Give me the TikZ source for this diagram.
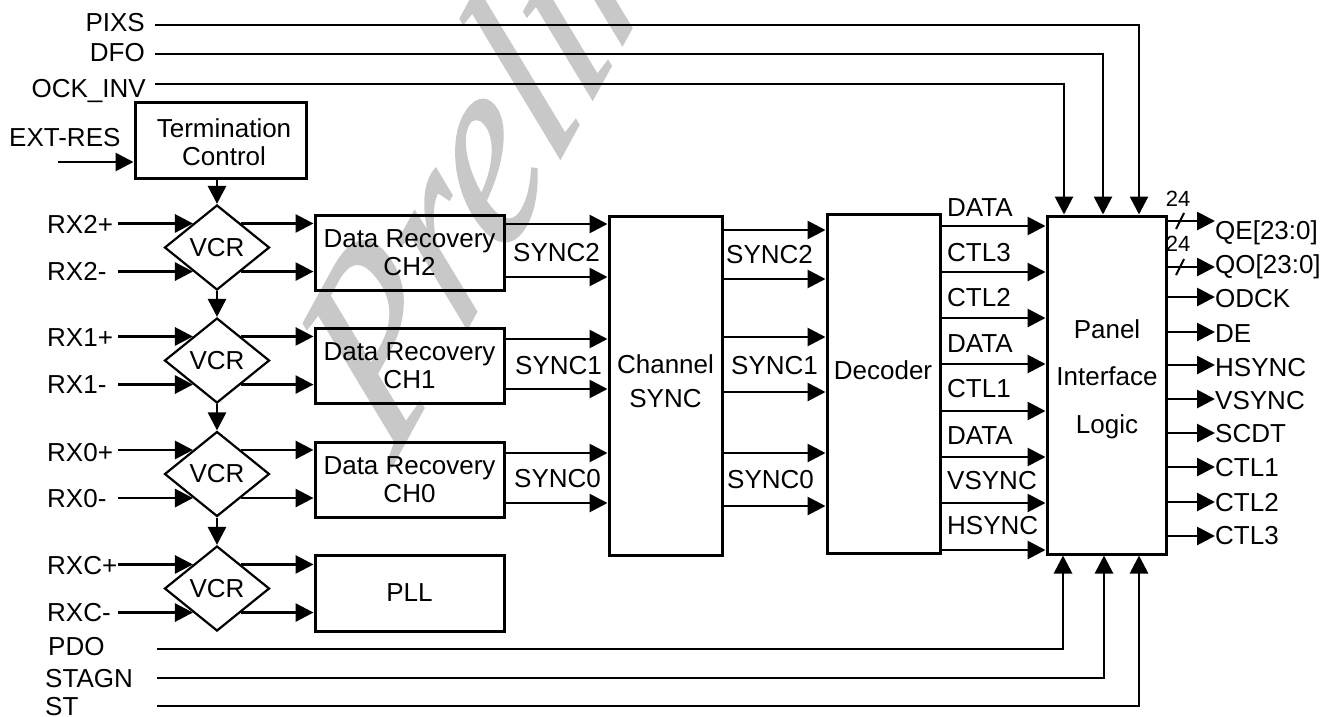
\documentclass[tikz,border=0pt]{standalone}
\usepackage{fontspec}
\setmainfont{Liberation Sans}
\newfontfamily\wmfont[ItalicFeatures={FakeBold=0.8}]{Liberation Serif}
\usetikzlibrary{arrows.meta,shapes.geometric}
\definecolor{wmgray}{RGB}{200,200,200}
\begin{document}
\begin{tikzpicture}[x=1pt,y=-1pt,
  blk/.style={draw, line width=3pt, rectangle, inner sep=0pt, align=center,
    font=\fontsize{26}{28}\selectfont},
  arr/.style={line width=2.8pt, -{Triangle[length=18pt,width=18pt]}},
  lbl/.style={inner sep=0pt, text height=18.6pt, text depth=0pt,
    font=\fontsize{26}{28}\selectfont},
  mtxt/.style={inner sep=0pt, align=center},
  vcr/.style={draw, diamond, line width=2.2pt, minimum width=105pt,
    minimum height=85pt, inner sep=0pt, aspect=1.235,
    font=\fontsize{26}{28}\selectfont},
  bus/.style={inner sep=0pt, font=\fontsize{22}{24}\selectfont}]
\useasboundingbox (0,0) rectangle (1335,716);

% watermark
\node[cm={0.480,0.877,-0.640,0.768,(392,466)}, transform shape,
  anchor=base west, inner sep=0pt, text=wmgray,
  font=\fontsize{240}{240}\wmfont\itshape] (wm) at (0,0) {Preliminary};

% top control inputs
\node[lbl, anchor=east] (pixs) at (145,22) {PIXS};
\node[lbl, anchor=east] (dfo) at (145,52) {DFO};
\node[lbl, anchor=east] (ockinv) at (146,88) {OCK\_INV};
\node[lbl, anchor=west] (extres) at (9,137) {EXT-RES};
\coordinate (pixsS) at (155,25);
\coordinate (dfoS) at (155,54);
\coordinate (ockS) at (155,84);
\coordinate (extS) at (58,162);

% blocks
\node[blk, minimum width=171pt, minimum height=76pt] (term) at (220.5,140) {};
\node[mtxt, font=\fontsize{26}{28}\selectfont] (termtxt) at (224,142) {Termination\\Control};
\node[blk, minimum width=189pt, minimum height=75pt] (dr2) at (409.5,252.5) {Data Recovery\\CH2};
\node[blk, minimum width=189pt, minimum height=75pt] (dr1) at (409.5,365.5) {Data Recovery\\CH1};
\node[blk, minimum width=189pt, minimum height=75pt] (dr0) at (409.5,480) {Data Recovery\\CH0};
\node[blk, minimum width=189pt, minimum height=76pt] (pll) at (409.5,593) {PLL};
\node[blk, minimum width=113pt, minimum height=339pt] (cs) at (665.5,385.5) {};
\node[mtxt, font=\fontsize{26}{34}\selectfont] (cstxt) at (665.5,381) {Channel\\SYNC};
\node[blk, minimum width=113pt, minimum height=339pt] (dec) at (883.5,383.5) {};
\node[mtxt, font=\fontsize{26}{28}\selectfont] (dectxt) at (883,370) {Decoder};
\node[blk, minimum width=119pt, minimum height=338pt] (panel) at (1106.5,385) {};
\node[mtxt, font=\fontsize{26}{47.5}\selectfont] (paneltxt) at (1107,379) {Panel\\Interface\\Logic};

% VCR diamonds
\node[vcr] (vcr1) at (217,247.5) {VCR};
\node[vcr] (vcr2) at (217,360.5) {VCR};
\node[vcr] (vcr3) at (217,474) {VCR};
\node[vcr] (vcr4) at (217,588.5) {VCR};

% input labels
\node[lbl, anchor=west] (rx2p) at (47,224) {RX2+};
\node[lbl, anchor=west] (rx2m) at (47,271) {RX2-};
\node[lbl, anchor=west] (rx1p) at (47,337) {RX1+};
\node[lbl, anchor=west] (rx1m) at (47,384) {RX1-};
\node[lbl, anchor=west] (rx0p) at (47,452) {RX0+};
\node[lbl, anchor=west] (rx0m) at (47,498) {RX0-};
\node[lbl, anchor=west] (rxcp) at (47,565) {RXC+};
\node[lbl, anchor=west] (rxcm) at (47,612) {RXC-};

% bottom control inputs
\node[lbl, anchor=west] (pdo) at (48,646) {PDO};
\node[lbl, anchor=west] (stagn) at (45,678) {STAGN};
\node[lbl, anchor=west] (st) at (45,706) {ST};
\coordinate (pdoS) at (157,649);
\coordinate (stagnS) at (157,678);
\coordinate (stS) at (157,706);

% connectors: control lines
\draw[arr] (pixsS) -| ([xshift=32.5pt]panel.north);
\draw[arr] (dfoS) -| ([xshift=-3.5pt]panel.north);
\draw[arr] (ockS) -| ([xshift=-42.5pt]panel.north);
\draw[arr] (pdoS) -| ([xshift=-43.5pt]panel.south);
\draw[arr] (stagnS) -| ([xshift=-2.5pt]panel.south);
\draw[arr] (stS) -| ([xshift=32.5pt]panel.south);
\draw[arr] (extS) -- (extS -| term.west);

% VCR chain
\draw[arr] (term.south -| vcr1.north) -- (vcr1.north);
\draw[arr] (vcr1.south) -- (vcr2.north);
\draw[arr] (vcr2.south) -- (vcr3.north);
\draw[arr] (vcr3.south) -- (vcr4.north);

% inputs into VCRs and VCRs to blocks
\foreach \v/\b in {vcr1/dr2, vcr2/dr1, vcr3/dr0, vcr4/pll}{
  \draw[arr] (118,0 |- \v.135) -- (\v.135);
  \draw[arr] (118,0 |- \v.225) -- (\v.225);
  \draw[arr] (\v.45) -- (\v.45 -| \b.west);
  \draw[arr] (\v.-45) -- (\v.-45 -| \b.west);
}

% data recovery to channel sync
\foreach \y in {224,277,339,389,453,503}{
  \draw[arr] (dr2.east |- 0,\y) -- (cs.west |- 0,\y);
}
\node[lbl, anchor=west] (s2a) at (513,252) {SYNC2};
\node[lbl, anchor=west] (s1a) at (515,365) {SYNC1};
\node[lbl, anchor=west] (s0a) at (514,478) {SYNC0};

% channel sync to decoder
\foreach \y in {230,279,337,392,453,506}{
  \draw[arr] (cs.east |- 0,\y) -- (dec.west |- 0,\y);
}
\node[lbl, anchor=west] (s2b) at (726,254) {SYNC2};
\node[lbl, anchor=west] (s1b) at (731,365) {SYNC1};
\node[lbl, anchor=west] (s0b) at (727,479) {SYNC0};

% decoder to panel
\foreach \y in {226,272,318,364,411,457,503,550}{
  \draw[arr] (dec.east |- 0,\y) -- (panel.west |- 0,\y);
}
\node[lbl, anchor=west] (d1) at (947,207) {DATA};
\node[lbl, anchor=west] (d2) at (947,252) {CTL3};
\node[lbl, anchor=west] (d3) at (947,297) {CTL2};
\node[lbl, anchor=west] (d4) at (947,343) {DATA};
\node[lbl, anchor=west] (d5) at (947,388) {CTL1};
\node[lbl, anchor=west] (d6) at (947,435) {DATA};
\node[lbl, anchor=west] (d7) at (947,480) {VSYNC};
\node[lbl, anchor=west] (d8) at (947,525) {HSYNC};

% outputs
\node[lbl, anchor=west] (qe) at (1215,230) {QE[23:0]};
\node[lbl, anchor=west] (qo) at (1215,264) {QO[23:0]};
\node[lbl, anchor=west] (odck) at (1215,298) {ODCK};
\node[lbl, anchor=west] (de) at (1215,333) {DE};
\node[lbl, anchor=west] (hs) at (1215,367) {HSYNC};
\node[lbl, anchor=west] (vs) at (1215,400) {VSYNC};
\node[lbl, anchor=west] (scdt) at (1215,433) {SCDT};
\node[lbl, anchor=west] (c1) at (1215,467) {CTL1};
\node[lbl, anchor=west] (c2) at (1215,502) {CTL2};
\node[lbl, anchor=west] (c3) at (1215,535) {CTL3};
\draw[arr] (panel.east |- 0,221) -- (qe.west |- 0,221);
\draw[arr] (panel.east |- 0,267) -- (qo.west |- 0,267);
\foreach \n/\y in {odck/297, de/332, hs/365, vs/399, scdt/433, c1/467, c2/502, c3/536}{
  \draw[arr] (panel.east |- 0,\y) -- (\n.west |- 0,\y);
}
% bus width marks
\draw[line width=2pt] (1176,229) -- (1184,213);
\draw[line width=2pt] (1176,275) -- (1184,259);
\node[bus] (b1) at (1178,199) {24};
\node[bus] (b2) at (1178,244) {24};
\end{tikzpicture}
\end{document}
